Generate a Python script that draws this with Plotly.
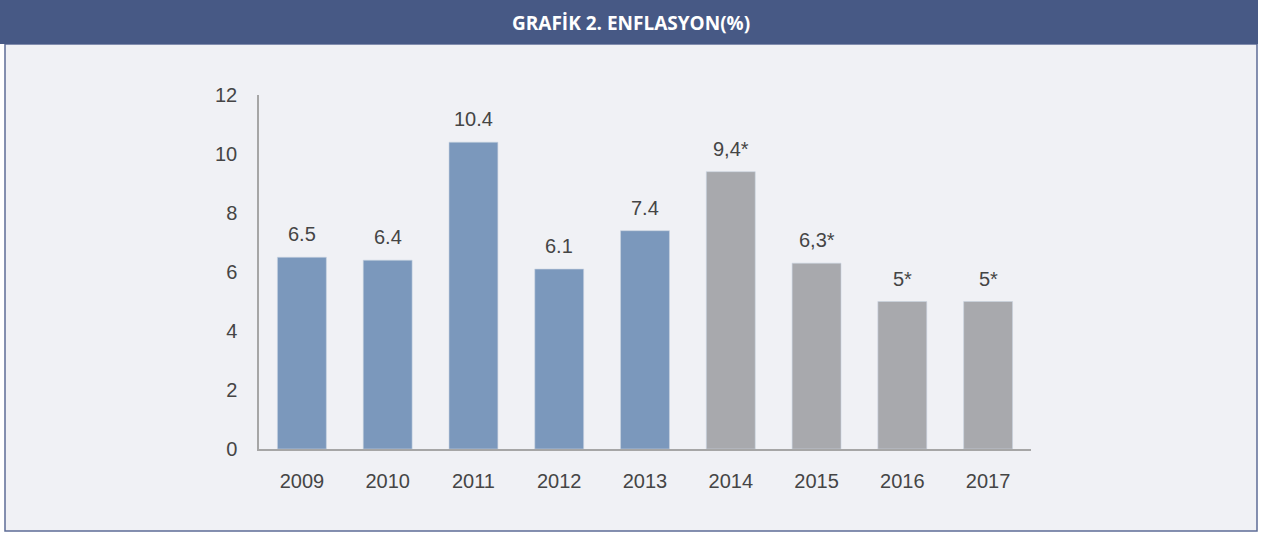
import plotly.graph_objects as go

W, H = 1262, 534

years = ["2009", "2010", "2011", "2012", "2013", "2014", "2015", "2016", "2017"]
values = [6.5, 6.4, 10.4, 6.1, 7.4, 9.4, 6.3, 5.0, 5.0]
labels = ["6.5", "6.4", "10.4", "6.1", "7.4", "9,4*", "6,3*", "5*", "5*"]
is_estimate = [False, False, False, False, False, True, True, True, True]
y_ticks = [0, 2, 4, 6, 8, 10, 12]
title_text = "GRAFİK 2. ENFLASYON(%)"

BLUE = "#7b98bc"
GRAY = "#a8a9ad"
BG = "#f0f1f5"
HEADER = "#475985"
TXT = "#454545"

colors = [GRAY if e else BLUE for e in is_estimate]

fig = go.Figure()
fig.add_trace(go.Bar(
    x=years, y=values,
    marker=dict(color=colors, line=dict(color="#c9d3e0", width=0.6)),
    hoverinfo="x+y",
))

for i, (v, t) in enumerate(zip(values, labels)):
    fig.add_annotation(x=i, y=v, text=t, showarrow=False, yshift=23,
                       yanchor="middle", font=dict(size=20, color=TXT,
                       family="Liberation Sans, Arial, sans-serif"))

# header and frame
fig.add_shape(type="rect", xref="paper", yref="paper",
              x0=5 / W, x1=1257 / W, y0=1 - 531 / H, y1=1 - 44 / H,
              fillcolor=BG, line=dict(color="#5d6c96", width=1.5), layer="below")
fig.add_shape(type="rect", xref="paper", yref="paper",
              x0=0, x1=1258 / W, y0=1 - 44 / H, y1=1,
              fillcolor=HEADER, line=dict(width=0), layer="below")
fig.add_annotation(xref="paper", yref="paper", x=631 / W, y=1 - 23 / H,
                   text="<b>" + title_text + "</b>", showarrow=False,
                   xanchor="center", yanchor="middle",
                   font=dict(size=19, color="white",
                             family="Open Sans, Liberation Sans, sans-serif"))

fig.update_layout(
    width=W, height=H,
    margin=dict(l=0, r=0, t=0, b=0, pad=0, autoexpand=False),
    paper_bgcolor="white",
    plot_bgcolor="rgba(0,0,0,0)",
    bargap=0.43,
    showlegend=False,
    font=dict(family="Liberation Sans, Arial, sans-serif", size=20, color=TXT),
    xaxis=dict(type="category", range=[-0.5, len(years) - 0.5],
               domain=[259 / W, 1031 / W], showgrid=False, showline=True,
               linecolor="#a6a6a6", linewidth=1.5, ticks="outside", ticklen=13,
               tickcolor="rgba(0,0,0,0)", tickfont=dict(size=20, color=TXT),
               fixedrange=True, automargin=False),
    yaxis=dict(domain=[1 - 449 / H, 1 - 95 / H], range=[0, 12],
               tickvals=y_ticks, showgrid=False, zeroline=False, showline=True,
               linecolor="#a6a6a6", linewidth=1.5, ticks="outside", ticklen=16,
               tickcolor="rgba(0,0,0,0)", tickfont=dict(size=20, color=TXT),
               fixedrange=True, automargin=False),
)

fig.write_html("out.html", config={"displayModeBar": False},
               post_script="document.body.style.margin='0';"
                           "document.body.style.overflow='hidden';"
                           "document.documentElement.style.overflow='hidden';")
